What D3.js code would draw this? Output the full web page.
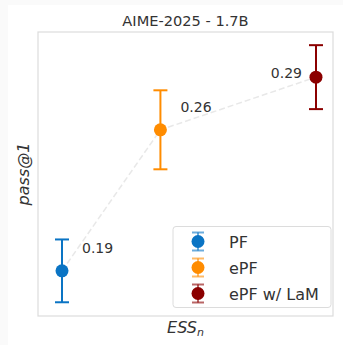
<!DOCTYPE html>
<html>
<head>
<meta charset="utf-8">
<script src="https://cdn.jsdelivr.net/npm/d3@7"></script>
<style>
  body { margin: 0; background: #fafafa; }
  text { font-family: 'DejaVu Sans', sans-serif; fill: #333; }
</style>
</head>
<body>
<div id="chart"></div>
<script>
// Data
const methods = ['PF', 'ePF', 'ePF w/ LaM']
const colors = ['#0a74c4', '#ff8c00', '#8b0000']
const essValues = [1.0, 2.55, 5.0]
const passValues = [0.188, 0.263, 0.291]
const errValues = [0.0167, 0.021, 0.017]
const valueLabels = ['0.19', '0.26', '0.29']
const title = 'AIME-2025 - 1.7B'

function draw(){
    const dimensions = {
        width: 343,
        height: 345,
        margin: { top: 32, right: 10, bottom: 29, left: 38 },
    }
    const ctrW = dimensions.width - dimensions.margin.left - dimensions.margin.right
    const ctrH = dimensions.height - dimensions.margin.top - dimensions.margin.bottom

    const svg = d3.select('#chart')
        .append('svg')
        .attr('width', dimensions.width)
        .attr('height', dimensions.height)

    // white figure panel
    svg.append('rect')
        .attr('x', 8).attr('y', 5)
        .attr('width', dimensions.width - 8)
        .attr('height', dimensions.height - 5)
        .attr('fill', 'white')

    const ctr = svg.append('g')
        .attr('transform', `translate(${dimensions.margin.left}, ${dimensions.margin.top})`)

    // Scales
    const xScale = d3.scaleLinear()
        .domain([0.622, 5.268])
        .range([0, ctrW])
    const yScale = d3.scaleLinear()
        .domain([0.164, 0.315])
        .range([ctrH, 0])

    // Frame
    ctr.append('rect')
        .attr('width', ctrW)
        .attr('height', ctrH)
        .attr('fill', 'none')
        .attr('stroke', '#dcdcdc')
        .attr('stroke-width', 1.2)

    const data = methods.map((m, i) => ({
        name: m, color: colors[i], x: essValues[i], y: passValues[i],
        err: errValues[i], label: valueLabels[i]
    }))

    // dashed connector
    const line = d3.line()
        .x(d => xScale(d.x))
        .y(d => yScale(d.y))
    ctr.append('path')
        .datum(data)
        .attr('d', line)
        .attr('fill', 'none')
        .attr('stroke', '#e8e8e8')
        .attr('stroke-width', 1.5)
        .attr('stroke-dasharray', '6,3')

    // error bars
    const bars = ctr.selectAll('.pt')
        .data(data)
        .join('g')
        .attr('class', 'pt')
    bars.append('line')
        .attr('x1', d => xScale(d.x)).attr('x2', d => xScale(d.x))
        .attr('y1', d => yScale(d.y - d.err)).attr('y2', d => yScale(d.y + d.err))
        .attr('stroke', d => d.color).attr('stroke-width', 2)
    ;[-1, 1].forEach(s => {
        bars.append('line')
            .attr('x1', d => xScale(d.x) - 7).attr('x2', d => xScale(d.x) + 7)
            .attr('y1', d => yScale(d.y + s * d.err)).attr('y2', d => yScale(d.y + s * d.err))
            .attr('stroke', d => d.color).attr('stroke-width', 2)
    })
    bars.append('circle')
        .attr('cx', d => xScale(d.x))
        .attr('cy', d => yScale(d.y))
        .attr('r', 6.5)
        .attr('fill', d => d.color)

    // value labels
    const labelOffsets = [[20, -18], [20, -18], [-14, 1]]
    ctr.selectAll('.val')
        .data(data)
        .join('text')
        .attr('class', 'val')
        .attr('x', (d, i) => xScale(d.x) + labelOffsets[i][0])
        .attr('y', (d, i) => yScale(d.y) + labelOffsets[i][1])
        .attr('text-anchor', (d, i) => i === 2 ? 'end' : 'start')
        .attr('font-size', 14)
        .text(d => d.label)

    // title and axis labels
    svg.append('text')
        .attr('x', dimensions.margin.left + ctrW / 2)
        .attr('y', 26)
        .attr('text-anchor', 'middle')
        .attr('font-size', 14.6)
        .text(title)

    const xl = svg.append('text')
        .attr('x', dimensions.margin.left + ctrW / 2)
        .attr('y', 333)
        .attr('text-anchor', 'middle')
        .attr('font-size', 16)
        .attr('font-style', 'italic')
    xl.append('tspan').text('ESS')
    xl.append('tspan').attr('font-size', 11).attr('dy', 3).text('n')

    svg.append('text')
        .attr('transform', `translate(29, ${dimensions.margin.top + ctrH / 2}) rotate(-90)`)
        .attr('text-anchor', 'middle')
        .attr('font-size', 16)
        .attr('font-style', 'italic')
        .text('pass@1')

    // Legend
    const legend = ctr.append('g')
        .attr('transform', `translate(${173 - dimensions.margin.left}, ${226.5 - dimensions.margin.top})`)
    legend.append('rect')
        .attr('width', 158).attr('height', 81)
        .attr('rx', 3)
        .attr('fill', 'white').attr('fill-opacity', 0.8)
        .attr('stroke', '#dcdcdc')
    const items = legend.selectAll('.item')
        .data(data)
        .join('g')
        .attr('class', 'item')
        .attr('transform', (d, i) => `translate(0, ${15 + i * 26})`)
    items.append('line')
        .attr('x1', 25).attr('x2', 25).attr('y1', -9).attr('y2', 9)
        .attr('stroke', d => d.color).attr('stroke-width', 2).attr('stroke-opacity', 0.6)
    ;[-9, 9].forEach(o => {
        items.append('line')
            .attr('x1', 19).attr('x2', 31).attr('y1', o).attr('y2', o)
            .attr('stroke', d => d.color).attr('stroke-width', 2).attr('stroke-opacity', 0.6)
    })
    items.append('circle')
        .attr('cx', 25).attr('cy', 0).attr('r', 6.5)
        .attr('fill', d => d.color)
    items.append('text')
        .attr('x', 56).attr('y', 6)
        .attr('font-size', 16)
        .text(d => d.name)
}

draw()
</script>
</body>
</html>
